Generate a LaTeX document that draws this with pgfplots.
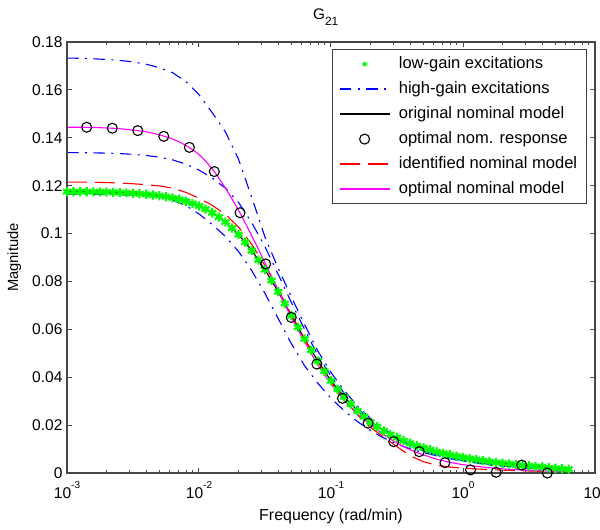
\documentclass[border=0pt]{standalone}
\usepackage{fontspec}
\setmainfont{Liberation Sans}
\usepackage{pgfplots}
\pgfplotsset{compat=1.18}
\usepackage{pgfplotstable}

\definecolor{mgreen}{RGB}{0,255,0}
\definecolor{mblue}{RGB}{0,0,255}
\definecolor{mred}{RGB}{255,0,0}
\definecolor{mmag}{RGB}{255,0,255}
\definecolor{axgray}{RGB}{70,70,70}

\newcommand{\dec}[1]{10\raisebox{0.62em}{\fontsize{5}{5}\selectfont #1}}

\pgfplotsset{
    centerleg/.style={legend image code/.code={\draw[mark repeat=2,mark phase=2,##1]
        plot coordinates {(0cm,0cm) (0.44cm,0cm) (0.88cm,0cm)};}},
    dashdot/.style={dash pattern=on 5.8bp off 3.2bp on 1bp off 3.2bp},
    legline/.style={legend image post style={line width=0.8bp}},
}

% low-gain excitations (dense markers)
\pgfplotstableread{
w lg
0.001000 0.1175
0.001122 0.1175
0.001259 0.1175
0.001413 0.1175
0.001585 0.1174
0.001778 0.1174
0.001995 0.1173
0.002239 0.1172
0.002512 0.1171
0.002818 0.1170
0.003162 0.1168
0.003548 0.1166
0.003981 0.1164
0.004467 0.1161
0.005012 0.1158
0.005623 0.1154
0.006310 0.1149
0.007079 0.1143
0.007943 0.1135
0.008913 0.1126
0.010000 0.1115
0.011220 0.1102
0.012590 0.1087
0.014130 0.1069
0.015850 0.1048
0.017780 0.1023
0.019950 0.0996
0.022390 0.0964
0.025120 0.0929
0.028180 0.0890
0.031620 0.0849
0.035480 0.0804
0.039810 0.0757
0.044670 0.0708
0.050120 0.0658
0.056230 0.0609
0.063100 0.0560
0.070790 0.0513
0.079430 0.0468
0.089130 0.0425
0.100000 0.0385
0.112200 0.0350
0.125900 0.0318
0.141300 0.0288
0.158500 0.0260
0.177800 0.0235
0.199500 0.0212
0.223900 0.0193
0.251200 0.0176
0.281800 0.0161
0.316200 0.0148
0.354800 0.0135
0.398100 0.0124
0.446700 0.0114
0.501200 0.0105
0.562300 0.0097
0.631000 0.0089
0.707900 0.0082
0.794300 0.0076
0.891300 0.0070
1.000000 0.0065
1.122000 0.0060
1.259000 0.0056
1.413000 0.0052
1.585000 0.0048
1.778000 0.0044
1.995000 0.0041
2.239000 0.0038
2.512000 0.0035
2.818000 0.0032
3.162000 0.0030
3.548000 0.0027
3.981000 0.0025
4.467000 0.0022
5.012000 0.0020
5.623000 0.0018
6.310000 0.0016
}\lowgain

% model curves: original, identified, optimal, high-gain A, B, C
\pgfplotstableread{
w orig ident optim hA hB hC
0.001000 0.1175 0.1215 0.1444 0.1733 0.1338 0.1165
0.001259 0.1175 0.1215 0.1444 0.1732 0.1338 0.1165
0.001585 0.1174 0.1214 0.1443 0.1730 0.1337 0.1164
0.001995 0.1173 0.1213 0.1441 0.1727 0.1336 0.1163
0.002512 0.1171 0.1211 0.1438 0.1723 0.1334 0.1162
0.003162 0.1168 0.1208 0.1432 0.1717 0.1331 0.1160
0.003981 0.1164 0.1204 0.1425 0.1707 0.1326 0.1157
0.005012 0.1158 0.1199 0.1412 0.1693 0.1319 0.1152
0.006310 0.1149 0.1190 0.1395 0.1672 0.1308 0.1140
0.007943 0.1135 0.1172 0.1368 0.1635 0.1290 0.1117
0.010000 0.1115 0.1148 0.1330 0.1580 0.1265 0.1082
0.012590 0.1087 0.1118 0.1270 0.1505 0.1232 0.1038
0.015850 0.1048 0.1080 0.1190 0.1425 0.1190 0.0988
0.019950 0.0996 0.1027 0.1097 0.1310 0.1130 0.0925
0.025120 0.0929 0.0955 0.0990 0.1150 0.1045 0.0845
0.031620 0.0849 0.0866 0.0878 0.0985 0.0945 0.0750
0.039810 0.0757 0.0766 0.0762 0.0855 0.0830 0.0645
0.050120 0.0658 0.0662 0.0650 0.0735 0.0712 0.0540
0.063100 0.0560 0.0560 0.0548 0.0620 0.0600 0.0448
0.079430 0.0468 0.0466 0.0452 0.0510 0.0492 0.0375
0.100000 0.0385 0.0380 0.0372 0.0420 0.0405 0.0312
0.125900 0.0318 0.0306 0.0303 0.0345 0.0333 0.0260
0.158500 0.0260 0.0243 0.0248 0.0280 0.0270 0.0215
0.199500 0.0212 0.0190 0.0201 0.0228 0.0220 0.0177
0.251200 0.0176 0.0150 0.0160 0.0184 0.0178 0.0146
0.316200 0.0148 0.0110 0.0125 0.0148 0.0143 0.0121
0.398100 0.0124 0.0072 0.0097 0.0118 0.0114 0.0101
0.501200 0.0105 0.0047 0.0076 0.0095 0.0092 0.0085
0.631000 0.0089 0.0033 0.0058 0.0077 0.0074 0.0072
0.794300 0.0076 0.0025 0.0045 0.0063 0.0060 0.0062
1.000000 0.0065 0.0020 0.0035 0.0052 0.0050 0.0053
1.585000 0.0048 0.0014 0.0022 0.0036 0.0034 0.0039
2.512000 0.0035 0.0010 0.0014 0.0025 0.0024 0.0028
3.981000 0.0025 0.0007 0.0009 0.0017 0.0016 0.0019
6.310000 0.0016 0.0005 0.0006 0.0011 0.0010 0.0013
}\models

% optimal nominal response
\pgfplotstableread{
w mag
0.001409 0.1444
0.002203 0.1440
0.003436 0.1430
0.005408 0.1406
0.008453 0.1360
0.013060 0.1259
0.020460 0.1087
0.031990 0.0873
0.050000 0.0650
0.078160 0.0455
0.122200 0.0312
0.191000 0.0208
0.298500 0.0131
0.466700 0.0089
0.729500 0.0043
1.140000 0.0013
1.782000 0.0003
2.786000 0.0033
4.355000 0.0000
}\optresp

\begin{document}
\begin{tikzpicture}
\begin{axis}[
    name=ax,
    scale only axis,
    width=264bp, height=215.5bp,
    xmode=log,
    xmin=0.001, xmax=10,
    ymin=0, ymax=0.18,
    xtick={0.001,0.01,0.1,1,10},
    xticklabels={\dec{-3},\dec{-2},\dec{-1},\dec{0},\dec{1}},
    minor xtick={0.002,0.003,0.004,0.005,0.006,0.007,0.008,0.009,
                 0.02,0.03,0.04,0.05,0.06,0.07,0.08,0.09,
                 0.2,0.3,0.4,0.5,0.6,0.7,0.8,0.9,
                 2,3,4,5,6,7,8,9},
    ytick={0,0.02,0.04,0.06,0.08,0.1,0.12,0.14,0.16,0.18},
    yticklabels={0,0.02,0.04,0.06,0.08,0.1,0.12,0.14,0.16,0.18},
    tick align=inside,
    major tick length=2.3bp,
    minor tick length=1.6bp,
    axis line style={axgray, line width=0.6bp},
    every tick/.style={axgray, line width=0.5bp},
    tick label style={font=\fontsize{7.8}{9}\selectfont},
    yticklabel style={inner xsep=2.1bp},
    xticklabel style={inner ysep=0pt, yshift=-4.2bp},
    axis on top,
    title={G\raisebox{-3.35bp}{\fontsize{6}{7}\selectfont 21}},
    every axis title/.style={font=\fontsize{7.7}{9}\selectfont,
        at={(axis description cs:0.49,1)}, anchor=south, inner sep=0pt, yshift=7.85bp},
    xlabel={Frequency (rad/min)},
    every axis x label/.style={font=\fontsize{8}{9.6}\selectfont,
        at={(axis description cs:0.5,0)}, anchor=north, inner sep=0pt, yshift=-18bp},
    ylabel={Magnitude},
    every axis y label/.style={font=\fontsize{7.4}{9}\selectfont,
        at={(axis description cs:-0.0858,0.5)}, rotate=90, anchor=south, inner sep=0pt},
    centerleg,
    legend style={at={(1,1)}, anchor=north east, xshift=-4.15bp, yshift=-3.65bp,
        draw=black!75, line width=0.5bp, fill=white,
        font=\fontsize{8.3}{10}\selectfont,
        inner xsep=3.25bp, inner ysep=0.9bp, row sep=0pt, column sep=3bp,
        cells={anchor=west},
        nodes={inner xsep=1.25bp, inner ysep=0pt, text height=8.45bp, text depth=4.05bp}},
]
% low-gain excitations
\addplot[only marks, mark=asterisk, color=mgreen, mark size=2.3bp, line width=1.1bp,
    centerleg, legend image post style={mark size=1.3bp, line width=0.6bp}]
    table[x=w, y=lg] {\lowgain};
\addlegendentry{low-gain excitations}
% high-gain excitations
\addplot[color=mblue, line width=0.55bp, dashdot, legline] table[x=w, y=hA] {\models};
\addlegendentry{high-gain excitations}
\addplot[forget plot, color=mblue, line width=0.55bp, dashdot] table[x=w, y=hB] {\models};
\addplot[forget plot, color=mblue, line width=0.55bp, dashdot] table[x=w, y=hC] {\models};
% original nominal model
\addplot[color=black, line width=0.55bp, legline] table[x=w, y=orig] {\models};
\addlegendentry{original nominal model}
% optimal nominal response
\addplot[only marks, mark=o, color=black, mark size=2.5bp, line width=0.55bp, centerleg]
    table[x=w, y=mag] {\optresp};
\addlegendentry{optimal nom. response}
% identified nominal model
\addplot[color=mred, line width=0.55bp, dash pattern=on 10bp off 4bp, legline]
    table[x=w, y=ident] {\models};
\addlegendentry{identified nominal model}
% optimal nominal model
\addplot[color=mmag, line width=0.55bp, smooth, legline] table[x=w, y=optim] {\models};
\addlegendentry{optimal nominal model}
\end{axis}
\pgfresetboundingbox
\path[use as bounding box] ([xshift=-33.5bp,yshift=-28bp]ax.south west)
    rectangle ([xshift=2.5bp,yshift=21bp]ax.north east);
\end{tikzpicture}
\end{document}
